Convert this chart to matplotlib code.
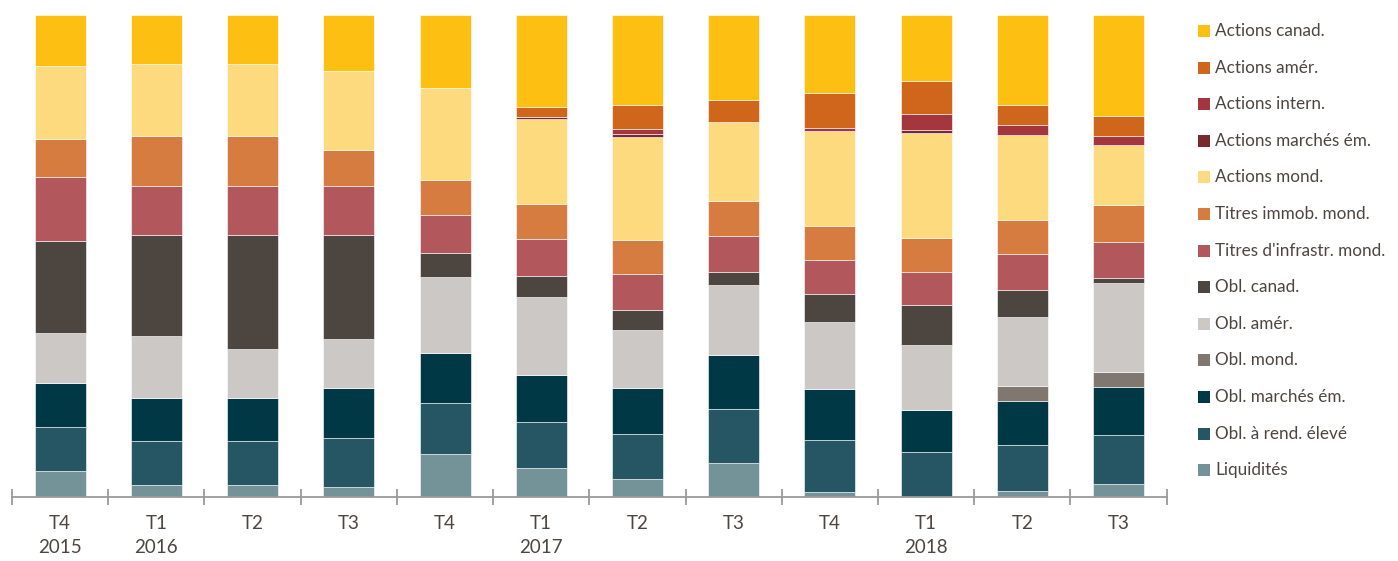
import numpy as np
import matplotlib.pyplot as plt
from matplotlib.patches import Rectangle

plt.rcParams['font.family'] = ['Lato', 'DejaVu Sans']

periods = ['T4\n2015', 'T1\n2016', 'T2', 'T3', 'T4', 'T1\n2017', 'T2', 'T3',
           'T4', 'T1\n2018', 'T2', 'T3']

# asset classes, bottom of the stack first
classes = ['Liquidités', 'Obl. à rend. élevé', 'Obl. marchés ém.', 'Obl. mond.',
           'Obl. amér.', 'Obl. canad.', "Titres d'infrastr. mond.",
           'Titres immob. mond.', 'Actions mond.', 'Actions marchés ém.',
           'Actions intern.', 'Actions amér.', 'Actions canad.']

colors = ['#739399', '#265663', '#003845', '#807770', '#ccc8c5', '#4d4540',
          '#b2575b', '#d67c40', '#fdda7e', '#7a2a2e', '#a5363d', '#d0651c',
          '#fdbf12']

# weights in %, one list per asset class, one value per quarter
liquidites   = [5.3, 2.4, 2.4, 2.0, 8.8, 5.9, 3.7, 7.0, 1.0, 0.0, 1.2, 2.7]
obl_rend     = [9.1, 9.2, 9.2, 10.2, 10.7, 9.6, 9.4, 11.2, 10.7, 9.2, 9.5, 10.1]
obl_em       = [9.1, 8.9, 8.9, 10.4, 10.4, 9.7, 9.5, 11.2, 10.7, 8.9, 9.3, 10.0]
obl_mond     = [0.0, 0.0, 0.0, 0.0, 0.0, 0.0, 0.0, 0.0, 0.0, 0.0, 3.1, 3.1]
obl_amer     = [10.5, 12.9, 10.2, 10.2, 15.8, 16.3, 12.0, 14.5, 13.9, 13.4, 14.2, 18.5]
obl_canad    = [19.1, 20.9, 23.6, 21.5, 4.9, 4.4, 4.2, 2.8, 5.8, 8.4, 5.7, 1.0]
titres_infra = [13.1, 10.3, 10.3, 10.3, 7.9, 7.6, 7.4, 7.4, 7.1, 6.9, 7.4, 7.6]
titres_immob = [7.9, 10.4, 10.4, 7.5, 7.3, 7.3, 7.1, 7.3, 7.1, 6.9, 7.1, 7.5]
act_mond     = [15.2, 14.8, 14.8, 16.3, 19.0, 17.6, 21.5, 16.5, 19.8, 22.0, 17.8, 12.6]
act_em       = [0.0, 0.0, 0.0, 0.0, 0.0, 0.35, 0.5, 0.0, 0.0, 0.6, 0.0, 0.0]
act_intern   = [0.0, 0.0, 0.0, 0.0, 0.0, 0.0, 1.1, 0.0, 0.6, 3.3, 1.9, 1.8]
act_amer     = [0.0, 0.0, 0.0, 0.0, 0.0, 2.2, 4.9, 4.5, 7.3, 6.9, 4.2, 4.2]
act_canad    = [10.5, 10.2, 10.2, 11.6, 15.2, 19.0, 18.7, 17.6, 16.1, 13.6, 18.7, 20.9]

series = [liquidites, obl_rend, obl_em, obl_mond, obl_amer, obl_canad,
          titres_infra, titres_immob, act_mond, act_em, act_intern, act_amer,
          act_canad]

data = np.array(series, dtype=float)
data = data / data.sum(axis=0) * 100

text_color = '#4d4540'
axis_color = '#9a9a9a'

fig = plt.figure(figsize=(13.98, 5.61), dpi=100)
W, H = 1398, 561
ax = fig.add_axes([12 / W, 64.3 / H, 1154.7 / W, 481.4 / H])

x = np.arange(len(periods))
bottom = np.zeros(len(periods))
for vals, col in zip(data, colors):
    ax.bar(x, vals, width=0.53, bottom=bottom, color=col,
           edgecolor='white', linewidth=0.4)
    bottom += vals

ax.set_xlim(-0.5, len(periods) - 0.5)
ax.set_ylim(0, 100)
ax.set_yticks([])
for s in ['top', 'right', 'left']:
    ax.spines[s].set_visible(False)
ax.spines['bottom'].set_color(axis_color)
ax.spines['bottom'].set_linewidth(1.3)

# separators between quarters
ax.set_xticks(np.arange(-0.5, len(periods)), labels=[])
ax.tick_params(axis='x', which='major', direction='inout', length=12,
               width=1.3, color=axis_color)
ax.set_xticks(x, labels=periods, minor=True)
ax.tick_params(axis='x', which='minor', length=0, pad=13,
               labelsize=13.5, labelcolor=text_color)
for lbl in ax.get_xticklabels(minor=True):
    lbl.set_linespacing(1.5)

# legend, top entry first
for i, (lab, col) in enumerate(zip(classes[::-1], colors[::-1])):
    yc = 31 + i * 36.6
    fig.add_artist(Rectangle((1198 / W, (H - yc - 6) / H), 12 / W, 12 / H,
                             transform=fig.transFigure, color=col, lw=0))
    fig.text(1215 / W, (H - yc) / H, lab, fontsize=12.3, color=text_color,
             va='center', ha='left')

fig.savefig('out.png', dpi=100)
